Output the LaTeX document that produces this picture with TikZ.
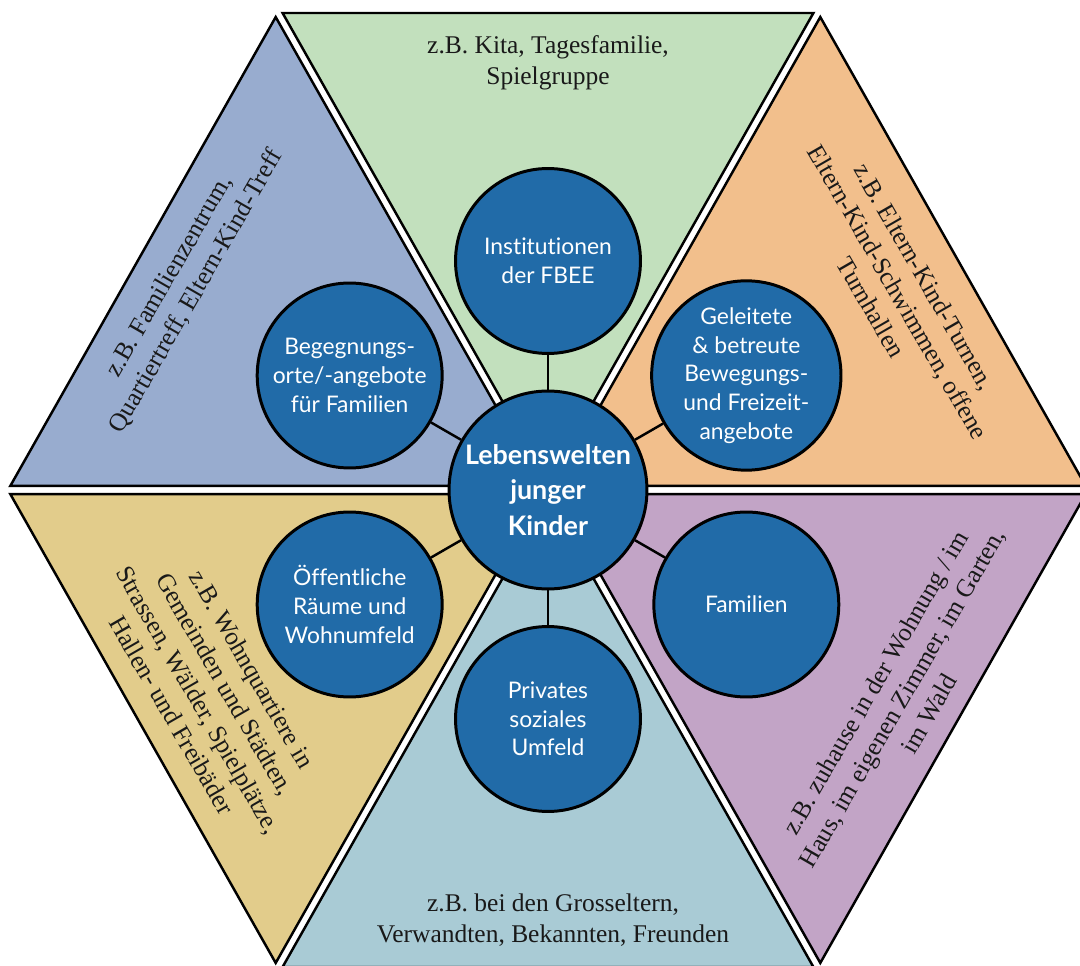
\documentclass[tikz,border=0pt]{standalone}
\usepackage{fontspec}
\setmainfont{Liberation Serif}
\setsansfont{Lato}[Ligatures=NoCommon]
\usetikzlibrary{calc, positioning}
\definecolor{kita}{HTML}{C2E0BD}
\definecolor{treff}{HTML}{98ACCF}
\definecolor{turnen}{HTML}{F2BF8C}
\definecolor{quartier}{HTML}{E2CC8B}
\definecolor{privat}{HTML}{A9CBD5}
\definecolor{familie}{HTML}{C2A4C6}
\definecolor{welt}{HTML}{216BA8}
\tikzset{
every node/.style={inner sep=1pt},
field/.style={draw=black, line width=1.4pt, line join=miter}, % one coloured triangle
world/.style={circle, draw=black, line width=1.7pt, fill=welt, text=white,
  minimum size=3.7cm, align=center, font=\sffamily\fontsize{13}{16.3}\selectfont},
hub/.style={world, minimum size=3.96cm, font=\sffamily\bfseries\fontsize{15.3}{20}\selectfont},
note/.style={align=center, text=black!90, font=\fontsize{14.5}{17.6}\selectfont},
link/.style={draw=black, line width=1.4pt},
}

\begin{document}
\begin{tikzpicture}[x=0.02cm, y=0.02cm]
  \clip (0,0) rectangle (1080,965);
  % corners of the hexagon
  \coordinate (c) at (548,475);
  \coordinate (v0) at (1088,475);
  \coordinate (v1) at (818,952);
  \coordinate (v2) at (278,952);
  \coordinate (v3) at (8,475);
  \coordinate (v4) at (278,-2);
  \coordinate (v5) at (818,-2);

  % six triangles with a small gap between them
  \foreach \a/\b/\col in {1/2/kita, 2/3/treff, 3/4/quartier, 4/5/privat, 5/0/familie, 0/1/turnen}{
    \path (v\a) -- (v\b) coordinate[pos=0.0085] (p) coordinate[pos=0.9915] (q) coordinate[pos=0.5] (m);
    \path (c) -- (m) coordinate[pos=0.017] (r);
    \filldraw[field, fill=\col] (r) -- (p) -- (q) -- cycle;
  }

  % examples in the triangles
  \node[note] (kitanote) at (548,902) {z.B. Kita, Tagesfamilie,\\Spielgruppe};
  \node[note, rotate=60] (treffnote) at (183,681) {z.B. Familienzentrum,\\Quartiertreff, Eltern-Kind-Treff};
  \node[note, rotate=-60] (turnnote) at (898,673) {z.B. Eltern-Kind-Turnen,\\Eltern-Kind-Schwimmen, offene\\Turnhallen};
  \node[note, rotate=-60] (quartnote) at (212,273) {z.B. Wohnquartiere in\\Gemeinden und Städten,\\Strassen, Wälder, Spielplätze,\\Hallen- und Freibäder};
  \node[note, rotate=60] (famnote) at (902,267) {z.B. zuhause in der Wohnung / im\\Haus, im eigenen Zimmer, im Garten,\\im Wald};
  \node[note] (privnote) at (553,45) {z.B. bei den Grosseltern,\\Verwandten, Bekannten, Freunden};

  % circles
  \node[hub] (hub) at (c) {Lebenswelten\\junger\\Kinder};
  \node[world] (inst) at ($(c)+(90:229)$) {Institutionen\\der FBEE};
  \node[world] (beg) at ($(c)+(150:229)$) {Begegnungs-\\orte/-angebote\\für Familien};
  \node[world] (gel) at ($(c)+(30:229)$) {Geleitete\\\& betreute\\Bewegungs-\\und Freizeit-\\angebote};
  \node[world] (fam) at ($(c)+(-30:229)$) {Familien};
  \node[world] (oef) at ($(c)+(210:229)$) {Öffentliche\\Räume und\\Wohnumfeld};
  \node[world] (priv) at ($(c)+(270:229)$) {Privates\\soziales\\Umfeld};

  \path[link]
  (hub) edge (inst)
        edge (beg)
        edge (gel)
        edge (fam)
        edge (oef)
        edge (priv);
\end{tikzpicture}
\end{document}
